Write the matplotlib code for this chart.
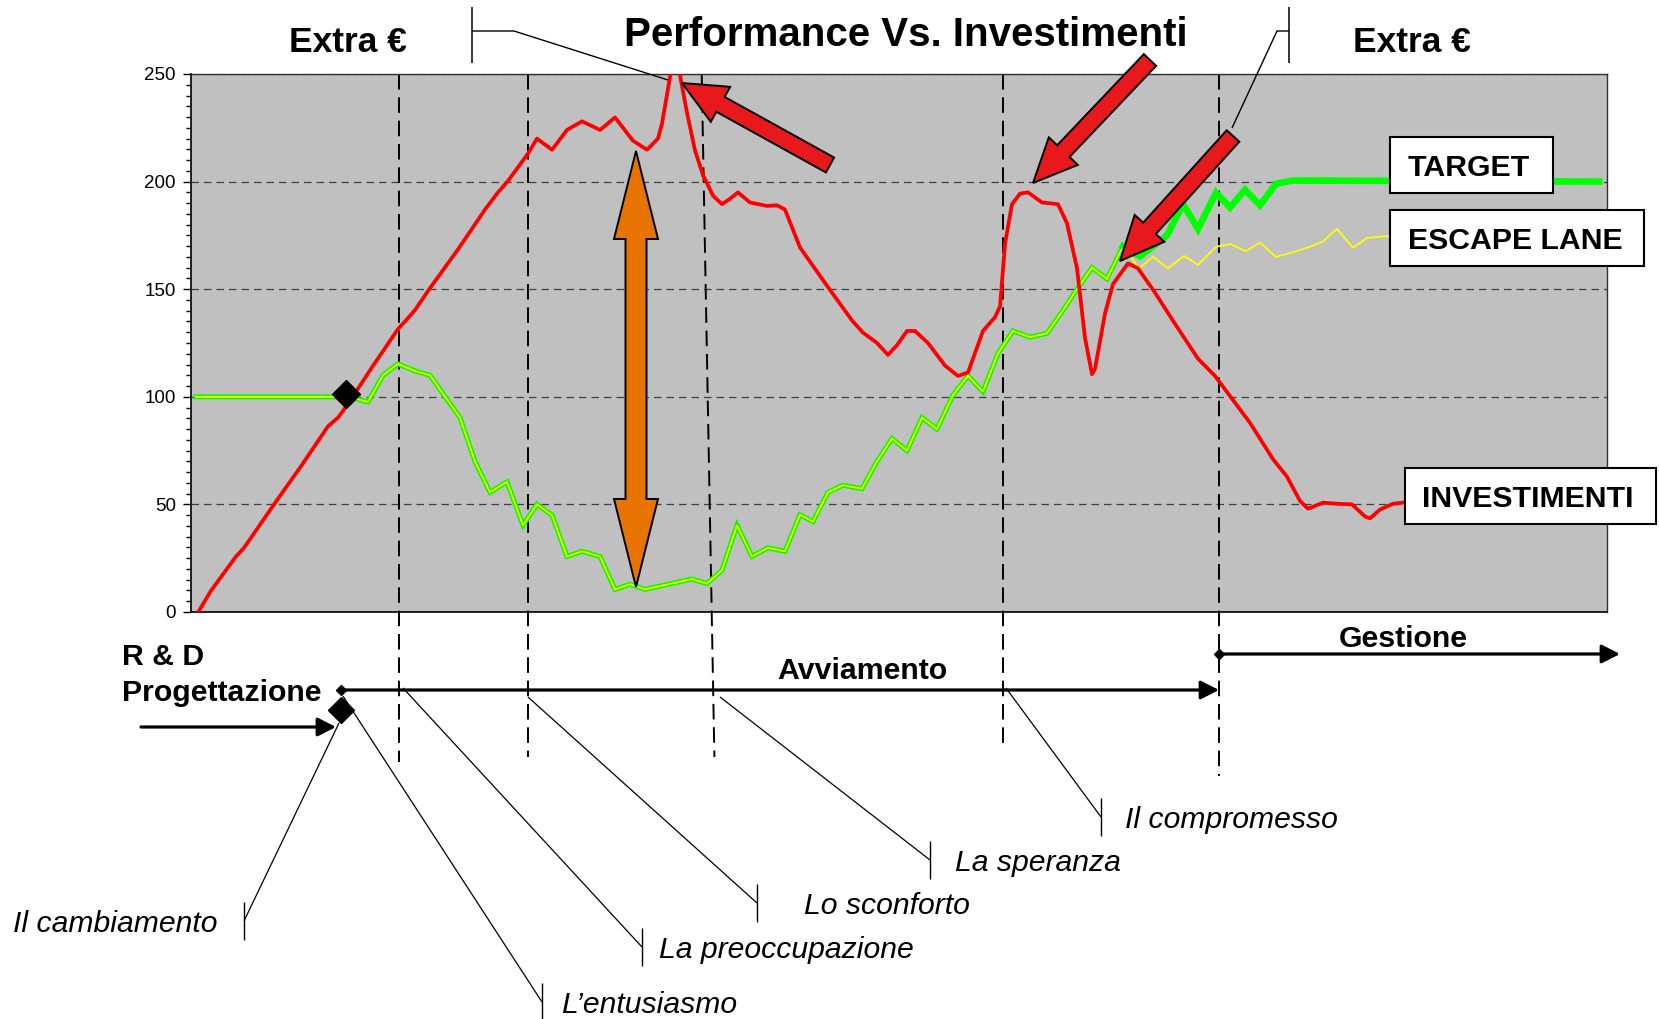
import numpy as np
import matplotlib
matplotlib.use("Agg")
import matplotlib.pyplot as plt
from matplotlib.patches import Polygon, Rectangle, FancyArrowPatch
from matplotlib.lines import Line2D
from matplotlib.ticker import MultipleLocator

plt.rcParams['font.family'] = ['Liberation Sans', 'DejaVu Sans']

# ---- data (x in arbitrary time units, y = index) ----
invest_x = [0.73, 1.97, 4.5, 5.3, 8.3, 11.0, 13.7, 14.7, 15.6, 18.1, 20.7, 21.4, 22.4,
            23.9, 26.7, 29.4, 30.7, 31.7, 33.7, 34.6, 36.1, 37.6, 39.1, 40.1, 40.9,
            42.4, 44.2, 45.6, 46.7, 47.1, 48.4, 49.6, 50.4, 51.2, 52.2, 53.1, 53.9,
            54.7, 55.9, 57.6, 58.6, 59.4, 60.9, 63.6, 66.1, 67.2, 68.6, 69.7, 70.6,
            71.6, 72.4, 73.7, 75.4, 76.7, 77.7, 79.2, 80.4, 80.9, 81.4, 82.1, 82.9,
            83.7, 85.1, 86.7, 87.6, 88.6, 89.4, 90.1, 90.4, 91.4, 92.2, 93.7, 94.7,
            96.4, 98.4, 100.7, 102.4, 105.9, 108.2, 109.6, 110.9, 111.7, 113.2,
            114.6, 116.1, 117.4, 117.9, 118.9, 120.2, 121.2, 123.5]
invest_y = [0, 9.7, 25.8, 29.8, 50, 67.7, 86.3, 90.3, 96, 113.7, 131.5, 135, 140.3,
            150.5, 168.5, 187, 195, 200.3, 213, 220, 214.8, 224, 228, 225.8, 224,
            229.8, 219, 214.8, 220, 227, 262, 232, 214.5, 203, 193.5, 189.5, 192,
            195, 190.3, 188.7, 189, 187, 169.4, 151.6, 135.5, 129.8, 125, 119.5, 124,
            130.6, 130.6, 125, 114.5, 109.7, 111.3, 130.6, 137, 142, 171, 189.5, 194.4,
            195, 190.3, 189.5, 180.6, 159.7, 127.4, 110.5, 113, 138.7, 152.4, 162, 159.7,
            148.4, 133.9, 117.7, 109.7, 87.9, 71, 62.9, 51.6, 48, 50.8,
            50.3, 50, 44.4, 43.5, 47.6, 50.3, 50.8, 51]

perf_x = [0.5, 14.4, 16.4, 17.7, 19.2, 20.7, 22.4, 23.9, 26.9, 28.4, 29.9, 31.6, 33.2,
          34.6, 36.1, 37.6, 39.1, 40.9, 42.4, 43.9, 45.4, 50.1, 51.6, 53.1, 54.6, 56.1,
          57.7, 59.4, 60.9, 62.2, 63.7, 65.2, 67.1, 68.6, 70.1, 71.6, 73.1, 74.6, 76.2,
          77.7, 79.2, 80.7, 82.2, 83.9, 85.6, 87.1, 88.6, 90.1, 91.6, 93.2]
perf_y = [100, 100, 99.2, 97.6, 110, 115.3, 112, 110, 90.3, 70, 55.6, 60.5, 40.3,
          50, 45, 25.8, 28.2, 25.8, 10.5, 12.9, 10.5, 15.3, 13.2, 19.4, 40.3, 25.8,
          29.8, 28.2, 45.2, 42, 55.6, 58.9, 57.3, 70, 80.6, 75, 90.3, 85, 100.8,
          109.7, 102.4, 120.2, 130.6, 127.7, 129.5, 139.5, 150, 160, 154.8, 170]

target_x = [93.2, 94.9, 97.6, 99.2, 100.7, 102.5, 103.9, 105.4, 106.9, 108.5, 110.2, 140.8]
target_y = [170, 165.3, 175, 189.6, 178, 194.8, 188, 196.2, 189, 199, 200.5, 200]

escape_x = [93.2, 94.8, 96.2, 97.7, 99.3, 100.7, 102.5, 103.9, 105.5, 106.9, 108.5,
            110.2, 111.9, 113.2, 114.6, 116.2, 117.6, 119.8, 122.0]
escape_y = [170, 159.7, 165, 159.7, 165.5, 161.3, 169.7, 171, 167.7, 171.7, 165,
            167.2, 169.7, 172.2, 178, 169.3, 173.8, 174.7, 175]

change_point = (15.5, 101.5)

# phase boundaries: x at top, x at bottom, bottom end (image px)
phase_top = [20.8, 33.7, 51.07, 81.2, 102.8]
phase_bot = [20.8, 33.7, 52.34, 81.2, 102.8]
phase_end_px = [762, 757, 757, 748, 776]

# milestone labels: text, bar x, text y, leader start (image px)
milestones = [
    ("Il cambiamento", 244, 921, (339, 723)),
    ("L\u2019entusiasmo", 542, 1002, (343, 696)),
    ("La preoccupazione", 642, 947, (403, 688)),
    ("Lo sconforto", 757, 903, (528, 697)),
    ("La speranza", 930, 860, (720, 697)),
    ("Il compromesso", 1101, 817, (1006, 688)),
]
label_left = [13, 561, 659, 804, 955, 1125]

W, H = 1659, 1019
fig = plt.figure(figsize=(W / 100, H / 100), dpi=100)
TF = fig.transFigure


def fx(x):
    return x / W


def fy(y):
    return 1 - y / H


PL, PR, PT, PB = 191, 1607, 74, 612
ax = fig.add_axes([fx(PL), fy(PB), (PR - PL) / W, (PB - PT) / H])
ax.set_facecolor('#C0C0C0')
ax.set_xlim(0, (PR - PL) / 10)
ax.set_ylim(0, 250)
ax.set_xticks([])
ax.set_yticks([0, 50, 100, 150, 200, 250])
ax.yaxis.set_minor_locator(MultipleLocator(5))
ax.tick_params(axis='y', which='major', labelsize=13.5, length=6, width=1, pad=5)
ax.tick_params(axis='y', which='minor', length=3.5, width=1)
ax.set_axisbelow(True)
ax.yaxis.grid(True, ls=(0, (6, 4)), color='#404040', lw=0.9)
for s in ['left', 'bottom']:
    ax.spines[s].set_color('black')
    ax.spines[s].set_linewidth(1.2)
for s in ['top', 'right']:
    ax.spines[s].set_color('#303030')
    ax.spines[s].set_linewidth(1.0)


def py2val(py):
    return (PB - py) * 250 / (PB - PT)


# phase dashed lines
for xt, xb, pe in zip(phase_top, phase_bot, phase_end_px):
    ax.plot([xt, xb], [250, py2val(pe)], color='black', lw=1.4, ls=(0, (8, 4)),
            clip_on=False, zorder=2)

# series
ax.plot(perf_x, perf_y, color='#00FF00', lw=3.6, zorder=3, solid_joinstyle='miter')
ax.plot(perf_x, perf_y, color='#FFFF00', lw=1.3, zorder=3.1, solid_joinstyle='miter')
ax.plot(escape_x, escape_y, color='#FFFF00', lw=1.3, zorder=3)
ax.plot(target_x, target_y, color='#00FF00', lw=4.8, zorder=3.2, solid_joinstyle='miter')
ax.plot(invest_x, invest_y, color='#FF0000', lw=2.7, zorder=4, solid_joinstyle='round')
ax.plot([change_point[0]], [change_point[1]], 'D', color='black', ms=14, zorder=5)


# ---- decorations in image pixel coordinates ----
def block_arrow(tail, tip, shaft, head_w, head_len):
    (x0, y0), (x1, y1) = tail, tip
    dx, dy = x1 - x0, y1 - y0
    L = np.hypot(dx, dy)
    ux, uy = dx / L, dy / L
    nx, ny = -uy, ux
    bx, by = x1 - ux * head_len, y1 - uy * head_len
    s, h = shaft / 2, head_w / 2
    pts = [(x0 + nx * s, y0 + ny * s), (bx + nx * s, by + ny * s), (bx + nx * h, by + ny * h),
           (x1, y1), (bx - nx * h, by - ny * h), (bx - nx * s, by - ny * s),
           (x0 - nx * s, y0 - ny * s)]
    return [(fx(x), fy(y)) for x, y in pts]


for tail, tip in [((830, 165), (682, 83)), ((1150, 60), (1033, 183)), ((1233, 136), (1120, 261))]:
    fig.add_artist(Polygon(block_arrow(tail, tip, 17, 40, 44), closed=True, transform=TF,
                           fc='#E8191C', ec='black', lw=1.4, zorder=4))

# orange double arrow
cx, ytop, ybot, sw, hw, hl = 636, 151, 587, 21, 44, 88
dbl = [(cx, ytop), (cx + hw / 2, ytop + hl), (cx + sw / 2, ytop + hl), (cx + sw / 2, ybot - hl),
       (cx + hw / 2, ybot - hl), (cx, ybot), (cx - hw / 2, ybot - hl), (cx - sw / 2, ybot - hl),
       (cx - sw / 2, ytop + hl), (cx - hw / 2, ytop + hl)]
fig.add_artist(Polygon([(fx(x), fy(y)) for x, y in dbl], closed=True, transform=TF,
                       fc='#E87400', ec='black', lw=1.4, zorder=4))


def line(pts, lw=0.9, z=3):
    fig.add_artist(Line2D([fx(p[0]) for p in pts], [fy(p[1]) for p in pts], transform=TF,
                          color='black', lw=lw, zorder=z, solid_capstyle='butt'))


def label(x, y, s, **kw):
    # small downward shift so the visual centre of the glyphs sits on y
    fig.text(fx(x), fy(y + 3), s, va='center', **kw)


# title brackets
line([(472, 7), (472, 63)], lw=1.1)
line([(472, 31), (514, 31), (668, 80)], lw=1.0)
line([(1289, 7), (1289, 63)], lw=1.1)
line([(1289, 31), (1277, 31), (1232, 128)], lw=1.0)

label(906, 32, "Performance Vs. Investimenti", fontsize=29, fontweight='bold', ha='center')
label(348, 39, "Extra \u20ac", fontsize=25.5, fontweight='bold', ha='center')
label(1412, 39, "Extra \u20ac", fontsize=25.5, fontweight='bold', ha='center')

# series label boxes
boxes = [("TARGET", 1390, 137, 1553, 193, 1408, 165),
         ("ESCAPE LANE", 1390, 210, 1644, 266, 1408, 238),
         ("INVESTIMENTI", 1405, 468, 1656, 524, 1422, 496)]
for txt, x0, y0, x1, y1, tx, ty in boxes:
    fig.add_artist(Rectangle((fx(x0), fy(y1)), (x1 - x0) / W, (y1 - y0) / H, transform=TF,
                             fc='white', ec='black', lw=1.5, zorder=5))
    label(tx, ty, txt, fontsize=21.8, fontweight='bold', ha='left', zorder=6)


# timeline
def tl_arrow(p0, p1, lw=2.3):
    fig.add_artist(FancyArrowPatch((fx(p0[0]), fy(p0[1])), (fx(p1[0]), fy(p1[1])), transform=TF,
                                   arrowstyle='-|>,head_length=0.55,head_width=0.28',
                                   mutation_scale=20, lw=lw, color='black',
                                   shrinkA=0, shrinkB=0, zorder=3))


tl_arrow((341, 690), (1219, 690))
tl_arrow((1219, 654), (1620, 654))
tl_arrow((141, 727), (336, 727))
fig.add_artist(Line2D([fx(341)], [fy(690)], marker='D', ms=5, color='black', transform=TF, zorder=3))
fig.add_artist(Line2D([fx(1219)], [fy(654)], marker='D', ms=5, color='black', transform=TF, zorder=3))
fig.add_artist(Line2D([fx(341)], [fy(710)], marker='D', ms=13, color='black', transform=TF, zorder=3))

label(122, 654, "R & D", fontsize=21.8, fontweight='bold', ha='left')
label(122, 690, "Progettazione", fontsize=21.8, fontweight='bold', ha='left')
label(862, 668, "Avviamento", fontsize=21.8, fontweight='bold', ha='center')
label(1403, 636, "Gestione", fontsize=21.8, fontweight='bold', ha='center')

for (name, bx, ty, start), lx in zip(milestones, label_left):
    line([(bx, ty - 19), (bx, ty + 19)], lw=1.0)
    line([start, (bx, ty)], lw=0.9)
    label(lx, ty, name, fontsize=21.7, style='italic', ha='left')

fig.savefig("out.png", dpi=100)
